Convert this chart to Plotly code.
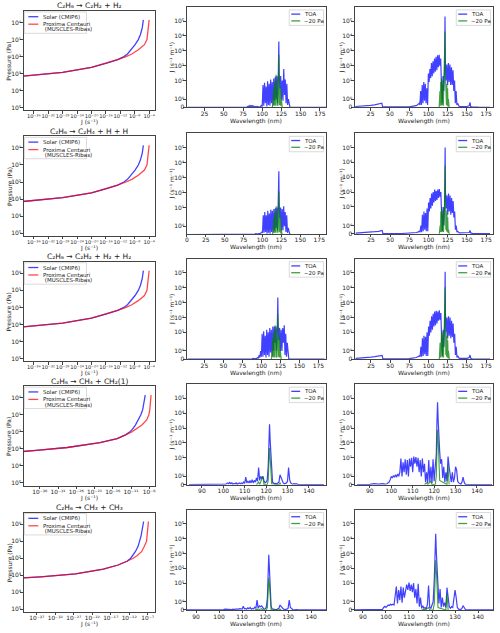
import math
import plotly.graph_objects as go

# ---------------- data ----------------
TITLES = [
    "C₂H₆ → C₂H₂ + H₂",
    "C₂H₆ → C₂H₄ + H + H",
    "C₂H₆ → C₂H₂ + H₂ + H₂",
    "C₂H₆ → CH₄ + CH₂(1)",
    "C₂H₆ → CH₃ + CH₃",
]

# pressure levels (Pa) and log10 J (s^-1) read from the left column
P_LEVELS = [0.7, 1, 2, 5, 10, 20, 40, 70, 100, 150, 250, 430, 830, 1230, 1450]
LOGJ_SOLAR_R1 = [-5.6, -5.7, -5.9, -6.4, -7.0, -7.9, -9.0, -10.0, -11.0, -12.7, -16.0, -20.0, -28.0, -36.0, -40.0]
LOGJ_PROX_R1 = [-4.0, -4.1, -4.2, -4.35, -4.6, -5.3, -7.0, -8.8, -10.4, -12.8, -16.0, -20.0, -28.0, -36.0, -40.0]
LOGJ_SOLAR_R2 = [-5.6, -5.7, -5.9, -6.4, -7.0, -7.9, -9.0, -10.0, -11.0, -12.7, -16.0, -20.0, -28.0, -36.0, -40.0]
LOGJ_PROX_R2 = [-4.0, -4.1, -4.2, -4.35, -4.6, -5.3, -7.0, -8.8, -10.4, -12.8, -16.0, -20.0, -28.0, -36.0, -40.0]
LOGJ_SOLAR_R3 = [-5.6, -5.7, -5.9, -6.4, -7.0, -7.9, -9.0, -10.0, -11.0, -12.7, -16.0, -20.0, -28.0, -36.0, -40.0]
LOGJ_PROX_R3 = [-4.0, -4.1, -4.2, -4.35, -4.6, -5.3, -7.0, -8.8, -10.4, -12.8, -16.0, -20.0, -28.0, -36.0, -40.0]
LOGJ_SOLAR_R4 = [-7.1, -7.2, -7.4, -7.8, -8.3, -9.0, -9.8, -10.6, -11.3, -12.5, -14.8, -19.5, -28.5, -37.0, -41.0]
LOGJ_PROX_R4 = [-5.5, -5.55, -5.65, -5.85, -6.1, -6.7, -8.0, -9.6, -10.8, -12.5, -14.8, -19.5, -28.5, -37.0, -41.0]
LOGJ_SOLAR_R5 = [-8.1, -8.2, -8.4, -8.8, -9.2, -9.6, -10.3, -11.0, -11.6, -12.6, -15.0, -19.0, -26.5, -36.0, -41.0]
LOGJ_PROX_R5 = [-6.8, -6.85, -6.95, -7.0, -7.3, -7.9, -8.6, -9.8, -10.9, -12.6, -15.0, -19.0, -26.5, -36.0, -41.0]

# spectra, rows 1-3, middle column (solar)
MID_WL = [3, 79,
          80, 81, 82, 83, 84, 85, 86, 87, 88, 89, 90, 91, 92, 93, 94, 95, 96, 97, 98, 99,
          100, 101, 102, 103, 104, 105, 106, 107, 108, 109, 110, 111, 112, 113, 114, 115, 116, 117, 118, 119, 120, 121,
          121.6,
          122, 123, 124, 125, 126, 127, 128, 129, 130, 131, 132, 133, 134, 135, 136, 137,
          183]
TOA_MID_R1 = [0, 0,
              0.02, 0.1, 0.05, 0.2, 0.05, 0.2, 0.1, 0.25, 0.05, 0.15, 0.05, 0.1, 0.02, 0.1, 0.02, 0.05, 0.02, 0.05, 0.1, 0.3,
              0.1, 5, 0.2, 7, 0.5, 4, 0.1, 9, 0.3, 6, 0.2, 12, 0.5, 8, 0.2, 14, 0.8, 18, 1, 20, 0.5, 40,
              4200,
              30, 3, 20, 1, 10, 0.8, 60, 1.5, 12, 0.5, 6, 0.3, 1, 0.1, 0.05, 0,
              0]
TOA_MID_R2 = [0, 0,
              0, 0, 0, 0, 0, 0, 0, 0, 0, 0, 0.05, 0.1, 0.05, 0.1, 0.05, 0.1, 0.05, 0.1, 0.2, 0.3,
              0.2, 3, 0.2, 5, 0.3, 3, 0.1, 6, 0.2, 4, 0.1, 7, 0.3, 6, 0.2, 8, 0.5, 9, 0.8, 10, 0.5, 20,
              2600,
              15, 2, 10, 0.5, 8, 0.5, 12, 1, 5, 0.3, 3, 0.2, 0.8, 0.1, 0.05, 0,
              0]
TOA_MID_R3 = [0, 0,
              0, 0, 0, 0, 0, 0, 0, 0, 0.05, 0.1, 0.05, 0.1, 0.05, 0.1, 0.1, 0.2, 0.1, 0.5, 0.2, 1,
              0.3, 8, 0.3, 12, 0.5, 6, 0.2, 15, 0.5, 10, 0.3, 20, 0.8, 15, 0.3, 25, 1, 25, 2, 25, 1, 40,
              2200,
              30, 3, 20, 1, 15, 1, 20, 2, 30, 0.5, 8, 0.3, 2, 0.2, 0.05, 0,
              0]
G_MID_WL = [113, 114, 115, 115.5, 116, 116.5, 117, 117.5, 118, 118.5, 119, 119.5,
            120, 120.5, 121, 121.6, 122, 122.5, 123, 123.5, 124, 124.5, 125, 126]
P20_MID_R1 = [0, 0.5, 3, 0.2, 6, 0.3, 10, 0.2, 25, 0.5, 15, 0.2, 2, 0.2, 8, 530, 15, 0.3, 4, 0.2, 3, 0.2, 1, 0]
P20_MID_R2 = [0, 0.3, 2, 0.2, 4, 0.2, 6, 0.2, 12, 0.3, 8, 0.2, 1, 0.2, 5, 120, 10, 0.3, 3, 0.2, 2, 0.1, 0.5, 0]
P20_MID_R3 = [0, 0.5, 4, 0.2, 8, 0.3, 12, 0.2, 30, 0.5, 20, 0.2, 3, 0.2, 10, 175, 20, 0.3, 6, 0.2, 4, 0.2, 1, 0]

# spectra, rows 1-3, right column (Proxima Centauri)
RIGHT_WL = [5, 10, 15, 20, 25, 30, 35, 38, 39.5, 40.5, 45, 50, 55, 60, 65, 70, 75, 80, 82, 84, 86, 88, 89,
            90, 91, 92, 93, 94, 95, 96, 97, 98, 99, 100, 101, 102, 103, 104, 105, 106, 107, 108, 109,
            110, 111, 112, 113, 114, 115, 116, 117, 118, 119, 120, 121,
            121.6,
            122, 123, 124, 125, 126, 127, 128, 129, 130, 131, 132, 133, 134, 135, 136, 137, 138,
            140, 145, 150, 153, 154, 155, 157, 165, 180]
TOA_RIGHT_R1 = [0.1, 0.12, 0.15, 0.2, 0.25, 0.3, 0.4, 0.45, 0.5, 0.05, 0.04, 0.03, 0.04, 0.03, 0.04, 0.05, 0.06, 0.1, 0.15, 0.2, 0.3, 0.5, 0.3,
                2, 0.3, 5, 0.5, 8, 0.8, 6, 0.5, 3, 0.3, 30, 8, 60, 15, 150, 20, 200, 30, 300, 40,
                400, 50, 500, 80, 550, 100, 300, 5, 0.5, 20, 2, 50,
                200000,
                250, 10, 120, 5, 150, 8, 120, 5, 80, 5, 50, 2, 10, 0.5, 2, 0.3, 0.5,
                0.1, 0.1, 0.1, 0.2, 0.6, 0.1, 0.05, 0.02, 0.01]
TOA_RIGHT_R2 = [0.08, 0.1, 0.12, 0.15, 0.2, 0.25, 0.3, 0.35, 0.4, 0.05, 0.03, 0.03, 0.03, 0.03, 0.03, 0.04, 0.05, 0.08, 0.1, 0.15, 0.2, 0.3, 0.2,
                1, 0.2, 3, 0.3, 5, 0.5, 4, 0.3, 8, 0.3, 20, 5, 40, 8, 80, 12, 100, 20, 150, 25,
                120, 30, 150, 40, 160, 50, 100, 3, 0.3, 10, 1, 30,
                100000,
                120, 8, 60, 3, 80, 5, 60, 3, 40, 4, 25, 2, 5, 0.5, 1, 0.2, 0.3,
                0.1, 0.1, 0.1, 0.15, 0.4, 0.1, 0.05, 0.02, 0.01]
TOA_RIGHT_R3 = [0.1, 0.12, 0.15, 0.2, 0.25, 0.3, 0.35, 0.4, 0.45, 0.05, 0.04, 0.03, 0.04, 0.03, 0.04, 0.05, 0.06, 0.1, 0.15, 0.2, 0.3, 0.4, 0.3,
                1.5, 0.3, 4, 0.4, 6, 0.6, 5, 0.4, 10, 0.4, 25, 6, 60, 10, 120, 15, 180, 25, 250, 30,
                280, 40, 250, 60, 300, 70, 200, 4, 0.4, 15, 1.5, 40,
                120000,
                200, 10, 100, 4, 120, 6, 100, 4, 60, 5, 40, 2, 8, 0.5, 1.5, 0.2, 0.4,
                0.1, 0.1, 0.1, 0.2, 0.5, 0.1, 0.05, 0.02, 0.01]
G_RIGHT_WL = [114, 115, 115.5, 116, 116.5, 117, 117.5, 118, 118.5, 119, 119.5, 120, 120.5,
              121, 121.6, 122, 122.5, 123, 123.5, 124, 124.5, 125, 125.5, 126, 127]
P20_RIGHT_R1 = [0, 2, 0.2, 8, 0.3, 15, 0.2, 5, 0.3, 10, 0.2, 3, 0.5, 30, 20000, 40, 0.5, 10, 0.3, 6, 0.2, 3, 0.1, 1, 0]
P20_RIGHT_R2 = [0, 1, 0.2, 5, 0.2, 10, 0.2, 3, 0.3, 6, 0.2, 2, 0.3, 20, 6000, 25, 0.5, 6, 0.3, 4, 0.2, 2, 0.1, 0.5, 0]
P20_RIGHT_R3 = [0, 2, 0.2, 8, 0.3, 12, 0.2, 5, 0.3, 10, 0.2, 3, 0.5, 30, 11000, 40, 0.5, 10, 0.3, 6, 0.2, 3, 0.1, 1, 0]

# spectra, rows 4-5 (zoomed 85-147 nm)
ZOOM_WL = [84, 88, 90, 92, 94, 96, 97, 98, 98.5, 99, 99.5, 100, 100.5,
           101.0, 101.5, 102.0, 102.5, 103.0, 103.5, 104.0, 104.5, 105.0, 105.5, 106.0, 106.5, 107.0, 107.5,
           108.0, 108.5, 109.0, 109.5, 110.0, 110.5, 111.0, 111.5, 112.0, 112.5, 113.0, 113.5, 114.0, 114.5,
           115.0, 115.5, 116.0, 116.5, 117.0, 117.5, 118.0, 118.5, 119.0, 119.5, 120.0, 120.5, 121.0,
           121.3, 121.6, 121.9, 122.2, 122.6,
           123.0, 123.5, 124.0, 124.5, 125.0, 125.5, 126.0, 126.5, 127.0, 127.5, 128.0, 128.5, 129.0, 129.5,
           130.0, 130.5, 131.0, 131.5, 132.0, 132.5, 133.0, 133.5, 134.0, 134.5, 135.0,
           140, 147]
TOA_MID_R4 = [0, 0, 0, 0, 0, 0, 0, 0, 0, 0, 0, 0, 0,
              0.05, 0.1, 0.2, 0.1, 0.25, 0.1, 0.2, 0.05, 0.15, 0.1, 0.2, 0.05, 0.1, 0.2,
              0.1, 0.2, 0.1, 0.3, 0.15, 0.9, 0.2, 0.4, 0.2, 0.5, 0.2, 0.6, 0.2, 0.5,
              0.3, 0.8, 0.4, 2.2, 0.5, 1.0, 0.7, 1.0, 0.5, 0.2, 0.3, 0.5, 3,
              100, 1800, 150, 15, 2,
              0.3, 0.2, 0.1, 0.15, 0.1, 0.2, 0.3, 1.2, 0.8, 0.4, 0.2, 0.1, 0.15, 0.2,
              0.4, 2.2, 0.6, 0.2, 0.1, 0.05, 0.1, 0.05, 0.1, 0.02, 0,
              0, 0]
TOA_RIGHT_R4 = [0, 0, 0.02, 0.1, 0.05, 0.1, 0.05, 0.1, 0.2, 0.3, 0.6, 1.0, 0.8,
                1.1, 0.9, 1.2, 0.9, 1.3, 1.0, 1.5, 9, 1.0, 5, 1.5, 8, 1.2, 7,
                1.0, 9, 2.5, 10, 1.5, 12, 4, 11, 2.5, 10, 1.5, 7, 1.0, 9,
                1.5, 4, 0.3, 1.5, 0.2, 7, 0.3, 2.5, 0.15, 8, 0.4, 2.5, 15,
                2000, 55000, 3000, 150, 25,
                4, 8, 0.8, 2.5, 0.3, 1.5, 0.4, 12, 2.5, 0.8, 0.3, 1.5, 0.3, 0.8,
                2.5, 1.8, 0.4, 0.2, 0.1, 0.05, 0.3, 0.9, 0.3, 0.05, 0.02,
                0.01, 0]
TOA_MID_R5 = [0, 0, 0, 0, 0, 0, 0, 0, 0, 0, 0, 0, 0,
              0, 0, 0.05, 0.1, 0.08, 0.1, 0.05, 0.1, 0.08, 0.05, 0.1, 0.05, 0.1, 0.1,
              0.05, 0.1, 0.15, 0.1, 0.1, 0.45, 0.15, 0.2, 0.1, 0.25, 0.15, 0.3, 0.1, 0.2,
              0.15, 0.35, 0.2, 1.2, 0.2, 0.5, 0.4, 0.5, 0.3, 0.1, 0.15, 0.3, 1.5,
              60, 800, 80, 6, 0.5,
              0.15, 0.1, 0.05, 0.05, 0.05, 0.1, 0.2, 0.6, 0.4, 0.2, 0.1, 0.05, 0.05, 0.1,
              0.2, 1.2, 0.3, 0.1, 0.05, 0.02, 0.05, 0.02, 0.05, 0, 0,
              0, 0]
TOA_RIGHT_R5 = [0, 0.02, 0.05, 0.08, 0.05, 0.08, 0.05, 0.1, 0.08, 0.3, 0.45, 0.3, 0.5,
                0.6, 0.55, 0.7, 0.6, 0.7, 0.6, 2.5, 6, 0.8, 3.5, 1.2, 6, 0.9, 5,
                1.5, 2.5, 8, 3.5, 11, 3, 8, 2.5, 10, 1.5, 4, 0.8, 9, 0.4,
                1.5, 0.2, 0.5, 0.2, 0.3, 0.1, 0.7, 7, 0.3, 0.2, 0.5, 1.0, 20,
                1500, 21000, 1000, 60, 12,
                0.8, 4, 0.3, 1.5, 0.4, 0.9, 0.3, 5, 1.5, 0.4, 0.2, 0.4, 0.3, 1.2,
                3.5, 1.5, 0.3, 0.1, 0.1, 0.05, 0.2, 0.5, 0.3, 0.05, 0,
                0, 0]
G_ZOOM_WL = [115.5, 116.5, 117, 118.5, 119, 120.5, 121.0, 121.3, 121.6, 121.9, 122.2, 122.6, 126, 126.5, 127]
P20_MID_R4 = [0, 0.3, 0, 1.0, 0, 0, 0.5, 8, 45, 10, 1, 0.1, 0, 0.2, 0]
P20_RIGHT_R4 = [0, 0.2, 0, 0.4, 0, 0, 1, 100, 780, 150, 5, 0.5, 0, 3, 0]
P20_MID_R5 = [0, 0.1, 0, 0.15, 0, 0, 0.3, 6, 22, 8, 0.8, 0.05, 0, 0.1, 0]
P20_RIGHT_R5 = [0, 0.1, 0, 0.3, 0, 0, 0.8, 60, 350, 60, 3, 0.3, 0, 2, 0]

# ---------------- helpers ----------------
W, H = 500, 633
FONT = "DejaVu Sans"
TXT = "#222222"
AX = "#444444"
BLUE = "rgba(0,0,255,0.75)"
RED = "rgba(255,0,0,0.72)"
GREEN = "rgba(0,128,0,0.75)"

LT, CSC = 2.0, 1.1  # symmetric-log: linear below LT

SUPMAP = str.maketrans("0123456789-", "⁰¹²³⁴⁵⁶⁷⁸⁹⁻")


def symlog(v):
    return CSC * v / LT if v < LT else CSC + math.log10(v / LT)


def sx(p):
    return p / W


def sy(p):
    return 1 - p / H


def sup(n):
    return "10" + str(n).translate(SUPMAP)


COLS = [(22, 154), (186, 326), (355, 494)]
LEFT_TOPS = [11, 137, 263, 388, 515]
LEFT_H = 100
SPEC_TOPS = [7, 134, 260, 386, 512]
SPEC_H = 101

left_data = [
    (LOGJ_SOLAR_R1, LOGJ_PROX_R1), (LOGJ_SOLAR_R2, LOGJ_PROX_R2), (LOGJ_SOLAR_R3, LOGJ_PROX_R3),
    (LOGJ_SOLAR_R4, LOGJ_PROX_R4), (LOGJ_SOLAR_R5, LOGJ_PROX_R5),
]
left_xrange = [(-38.75, -2.35), (-38.75, -2.35), (-38.75, -2.35), (-40.4, -4.4), (-40.5, -5.0)]
left_xticks = [list(range(-36, -3, 4))] * 3 + [list(range(-36, -5, 5)), list(range(-37, -6, 5))]

mid_data = [
    (MID_WL, TOA_MID_R1, G_MID_WL, P20_MID_R1),
    (MID_WL, TOA_MID_R2, G_MID_WL, P20_MID_R2),
    (MID_WL, TOA_MID_R3, G_MID_WL, P20_MID_R3),
    (ZOOM_WL, TOA_MID_R4, G_ZOOM_WL, P20_MID_R4),
    (ZOOM_WL, TOA_MID_R5, G_ZOOM_WL, P20_MID_R5),
]
right_data = [
    (RIGHT_WL, TOA_RIGHT_R1, G_RIGHT_WL, P20_RIGHT_R1),
    (RIGHT_WL, TOA_RIGHT_R2, G_RIGHT_WL, P20_RIGHT_R2),
    (RIGHT_WL, TOA_RIGHT_R3, G_RIGHT_WL, P20_RIGHT_R3),
    (ZOOM_WL, TOA_RIGHT_R4, G_ZOOM_WL, P20_RIGHT_R4),
    (ZOOM_WL, TOA_RIGHT_R5, G_ZOOM_WL, P20_RIGHT_R5),
]
mid_xrange = [(2, 183), (0, 184), (2, 185), (83, 148), (86, 146.5)]
right_xrange = [(4.5, 184), (4, 184), (4, 184), (83, 147.5), (86.5, 146.5)]

SPEC_YTOP = symlog(10 ** 5.95)
SPEC_TICKV = [0] + [symlog(10 ** k) for k in range(6)]
SPEC_TICKT = ["0"] + [sup(k) for k in range(6)]

fig = go.Figure()
layout = dict(
    width=W, height=H, margin=dict(l=0, r=0, t=0, b=0),
    paper_bgcolor="white", plot_bgcolor="white", showlegend=False,
    font=dict(family=FONT, size=6, color=TXT),
)
annotations = []
shapes = []

axis_common = dict(
    showline=True, mirror=True, linecolor=AX, linewidth=0.8,
    ticks="outside", ticklen=2.5, tickwidth=0.8, tickcolor=AX,
    showgrid=False, zeroline=False, tickangle=0, ticklabelstandoff=-2,
    tickfont=dict(family=FONT, size=6, color=TXT),
)


def ann(text, x, y, size=6, angle=0, xanchor="center", yanchor="middle"):
    annotations.append(dict(
        text=text, x=sx(x), y=sy(y), xref="paper", yref="paper",
        showarrow=False, textangle=angle, xanchor=xanchor, yanchor=yanchor,
        font=dict(family=FONT, size=size, color=TXT),
    ))


def hline(x0, x1, y, color):
    shapes.append(dict(type="line", xref="paper", yref="paper", layer="above",
                       x0=sx(x0), x1=sx(x1), y0=sy(y), y1=sy(y),
                       line=dict(color=color, width=1.3)))


def box(x0, x1, y0, y1):
    shapes.append(dict(type="rect", xref="paper", yref="paper", layer="above",
                       x0=sx(x0), x1=sx(x1), y0=sy(y1), y1=sy(y0),
                       fillcolor="rgba(255,255,255,0.8)",
                       line=dict(color="#d0d0d0", width=0.8)))


for r in range(5):
    for c in range(3):
        k = r * 3 + c + 1
        suf = "" if k == 1 else str(k)
        xname, yname = "xaxis" + suf, "yaxis" + suf
        xl, xr = COLS[c]
        if c == 0:
            top, hh = LEFT_TOPS[r], LEFT_H
        else:
            top, hh = SPEC_TOPS[r], SPEC_H
        bot = top + hh
        xdom = [sx(xl), sx(xr)]
        ydom = [sy(bot), sy(top)]

        if c == 0:
            sol, prox = left_data[r]
            fig.add_trace(go.Scatter(
                x=[10 ** v for v in sol], y=P_LEVELS, mode="lines",
                line=dict(color=BLUE, width=1.3), xaxis="x" + suf, yaxis="y" + suf,
                name="Solar (CMIP6)"))
            fig.add_trace(go.Scatter(
                x=[10 ** v for v in prox], y=P_LEVELS, mode="lines",
                line=dict(color=RED, width=1.3), xaxis="x" + suf, yaxis="y" + suf,
                name="Proxima Centauri (MUSCLES-Ribas)"))
            xfs = 5.2 if r < 3 else 5.8
            layout[xname] = dict(axis_common, domain=xdom, anchor="y" + suf, type="log",
                                 range=list(left_xrange[r]), tickmode="array",
                                 tickvals=[10 ** t for t in left_xticks[r]],
                                 ticktext=[sup(t) for t in left_xticks[r]],
                                 tickfont=dict(family=FONT, size=xfs, color=TXT))
            layout[yname] = dict(axis_common, domain=ydom, anchor="x" + suf, type="log",
                                 range=[5.16, -0.68], tickmode="array",
                                 tickvals=[10 ** t for t in range(6)],
                                 ticktext=[sup(t) for t in range(6)])
            # titles and axis labels
            ann(TITLES[r], (xl + xr) / 2, top - 5, size=7.5)
            ann("Pressure (Pa)", 7, top + hh / 2, size=6, angle=-90)
            ann("J (s⁻¹)", (xl + xr) / 2, bot + 12, size=6)
            # legend
            box(22.5, 85, top + 1, top + 22.5)
            hline(26.5, 36.5, top + 5.8, BLUE)
            hline(26.5, 36.5, top + 13.3, RED)
            ann("Solar (CMIP6)", 39.5, top + 5.8, size=5.5, xanchor="left")
            ann("Proxima Centauri", 39.5, top + 13.3, size=5.5, xanchor="left")
            ann(" (MUSCLES-Ribas)", 39.5, top + 18.6, size=5.5, xanchor="left")
        else:
            wl, toa, gwl, p20 = (mid_data if c == 1 else right_data)[r]
            fig.add_trace(go.Scatter(
                x=wl, y=[symlog(v) for v in toa], mode="lines",
                line=dict(color=BLUE, width=1.2), xaxis="x" + suf, yaxis="y" + suf, name="TOA"))
            fig.add_trace(go.Scatter(
                x=gwl, y=[symlog(v) for v in p20], mode="lines",
                line=dict(color=GREEN, width=1.1), xaxis="x" + suf, yaxis="y" + suf, name="~20 Pa"))
            xrng = (mid_xrange if c == 1 else right_xrange)[r]
            if r < 3:
                xt = dict(tick0=0, dtick=25)
            else:
                xt = dict(tick0=90, dtick=10)
            ybot = 0.04 if (r == 1 and c == 1) else -0.01
            layout[xname] = dict(axis_common, domain=xdom, anchor="y" + suf,
                                 range=list(xrng), tickmode="linear", **xt)
            layout[yname] = dict(axis_common, domain=ydom, anchor="x" + suf,
                                 range=[ybot, SPEC_YTOP], tickmode="array",
                                 tickvals=SPEC_TICKV, ticktext=SPEC_TICKT)
            ylab_x = 171 if c == 1 else 342
            ann("J (s⁻¹ m⁻¹)", ylab_x, top + hh / 2, size=6, angle=-90)
            ann("Wavelength (nm)", (xl + xr) / 2, bot + 13.5, size=6)
            # legend
            bl, br = xr - 37, xr - 2.5
            box(bl, br, top + 3, top + 18.5)
            hline(bl + 2, bl + 11, top + 7.2, BLUE)
            hline(bl + 2, bl + 11, top + 14, GREEN)
            ann("TOA", bl + 13, top + 7.2, size=5.5, xanchor="left")
            ann("~20 Pa", bl + 13, top + 14, size=5.5, xanchor="left")

layout["annotations"] = annotations
layout["shapes"] = shapes
fig.update_layout(**layout)
fig.write_html("out.html")
